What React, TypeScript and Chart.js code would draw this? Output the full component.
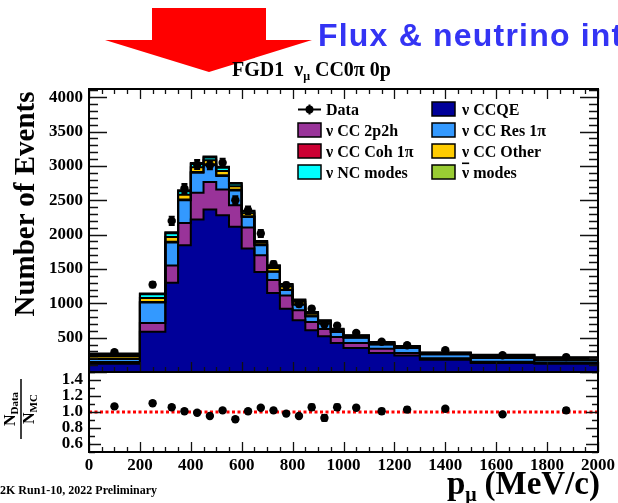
import React, { useEffect, useRef } from 'react';
import { Chart, registerables } from 'chart.js';

Chart.register(...registerables);

// ---------------- data ----------------
const binEdges = [0, 200, 300, 350, 400, 450, 500, 550, 600, 650, 700, 750, 800, 850, 900, 950, 1000, 1100, 1200, 1300, 1500, 1750, 2000];

const nuCCQE = [120, 585, 1300, 1845, 2220, 2366, 2283, 2113, 1797, 1456, 1150, 922, 752, 606, 519, 421, 349, 276, 242, 179, 130, 121];
const nuCC2p2h = [25, 130, 250, 325, 390, 400, 375, 316, 306, 244, 188, 190, 146, 121, 107, 88, 72, 63, 34, 20, 18, 15];
const nuCCRes1pi = [45, 295, 335, 330, 290, 245, 195, 215, 155, 146, 121, 83, 83, 83, 80, 73, 79, 63, 73, 60, 55, 35];
const nuCCCoh1pi = [3, 8, 10, 12, 12, 12, 10, 10, 8, 6, 5, 4, 3, 3, 3, 2, 2, 2, 1, 1, 1, 1];
const nuCCOther = [35, 60, 70, 70, 70, 60, 65, 50, 45, 30, 50, 45, 40, 35, 25, 28, 20, 18, 16, 15, 30, 25];
const nuNCModes = [20, 55, 55, 50, 45, 40, 45, 35, 25, 18, 30, 28, 22, 18, 12, 13, 9, 10, 8, 7, 12, 10];
const antiNuModes = [20, 10, 15, 15, 15, 15, 15, 12, 10, 8, 10, 10, 8, 7, 6, 6, 3, 4, 4, 3, 6, 6];

const dataCounts = [288, 1272, 2200, 2672, 3020, 3010, 3046, 2502, 2356, 2016, 1568, 1263, 990, 920, 694, 675, 570, 440, 390, 318, 243, 217];
const dataErrors = [20, 40, 60, 65, 65, 60, 60, 55, 55, 50, 45, 40, 35, 35, 30, 30, 25, 20, 20, 15, 12, 12];

const ratioValues = [1.07, 1.11, 1.06, 1.01, 0.99, 0.95, 1.02, 0.91, 1.01, 1.054, 1.02, 0.98, 0.95, 1.06, 0.926, 1.06, 1.054, 1.01, 1.03, 1.04, 0.97, 1.02];
const ratioErrors = [0.02, 0.02, 0.02, 0.02, 0.02, 0.02, 0.02, 0.02, 0.02, 0.02, 0.02, 0.02, 0.02, 0.035, 0.035, 0.035, 0.025, 0.03, 0.03, 0.02, 0.02, 0.03];
const unityLine = 1.0;

const componentNames = ['ν CCQE', 'ν CC 2p2h', 'ν CC Res 1π', 'ν CC Coh 1π', 'ν CC Other', 'ν NC modes', 'ν̄ modes'];
const componentColors = ['#000099', '#993399', '#3399ff', '#cc0033', '#ffcc00', '#00ffff', '#99cc33'];
const componentSeries = [nuCCQE, nuCC2p2h, nuCCRes1pi, nuCCCoh1pi, nuCCOther, nuNCModes, antiNuModes];

const xTickLabels = [0, 200, 400, 600, 800, 1000, 1200, 1400, 1600, 1800, 2000];
const mainYTickLabels = [500, 1000, 1500, 2000, 2500, 3000, 3500, 4000];
const ratioYTickLabels = [0.6, 0.8, 1.0, 1.2, 1.4];

const X_MIN = 0;
const X_MAX = 2000;
const MAIN_Y_MAX = 4120;
const RATIO_Y_MIN = 0.5;
const RATIO_Y_MAX = 1.5;

// ---------------- helpers ----------------
const SERIF = "'Liberation Serif', 'Times New Roman', serif";
const tickFont = { family: SERIF, size: 17, weight: 'bold' as const };

const binCenters = binEdges.slice(0, -1).map((e, i) => (e + binEdges[i + 1]) / 2);

const zeroPad = (s: any) => {
  s.paddingTop = 0;
  s.paddingBottom = 0;
  s.paddingLeft = 0;
  s.paddingRight = 0;
};

const frameTicksPlugin = {
  id: 'frameTicks',
  afterDatasetsDraw(chart: any, _args: any, opts: any) {
    const { ctx, chartArea: a } = chart;
    const xs = chart.scales.x;
    const ys = chart.scales.y;
    ctx.save();
    // error bars
    chart.data.datasets.forEach((ds: any, i: number) => {
      if (!ds.errorBars) return;
      const meta = chart.getDatasetMeta(i);
      ctx.strokeStyle = '#000';
      ctx.lineWidth = 2;
      meta.data.forEach((pt: any, j: number) => {
        const v = ds.data[j].y;
        const e = ds.errorBars[j];
        const y1 = ys.getPixelForValue(v + e);
        const y2 = ys.getPixelForValue(v - e);
        ctx.beginPath();
        ctx.moveTo(pt.x, y1);
        ctx.lineTo(pt.x, y2);
        ctx.moveTo(pt.x - 3, y1);
        ctx.lineTo(pt.x + 3, y1);
        ctx.moveTo(pt.x - 3, y2);
        ctx.lineTo(pt.x + 3, y2);
        ctx.stroke();
      });
    });
    // ticks (pointing inward, ROOT style)
    ctx.strokeStyle = '#111';
    ctx.lineWidth = 1.3;
    const walk = (min: number, max: number, minor: number, major: number, fn: (v: number, isMajor: boolean) => void) => {
      const k0 = Math.ceil(min / minor - 1e-9);
      const k1 = Math.floor(max / minor + 1e-9);
      const per = Math.round(major / minor);
      for (let k = k0; k <= k1; k++) fn(k * minor, k % per === 0);
    };
    ctx.beginPath();
    walk(xs.min, xs.max, opts.xMinor, opts.xMajor, (v, M) => {
      const p = Math.round(xs.getPixelForValue(v)) + 0.5;
      const len = M ? opts.xMajorLen : opts.xMinorLen;
      ctx.moveTo(p, a.bottom);
      ctx.lineTo(p, a.bottom - len);
      if (opts.top) {
        ctx.moveTo(p, a.top);
        ctx.lineTo(p, a.top + len);
      }
    });
    walk(ys.min, ys.max, opts.yMinor, opts.yMajor, (v, M) => {
      const p = Math.round(ys.getPixelForValue(v)) + 0.5;
      const len = M ? opts.yMajorLen : opts.yMinorLen;
      ctx.moveTo(a.left, p);
      ctx.lineTo(a.left + len, p);
      ctx.moveTo(a.right, p);
      ctx.lineTo(a.right - len, p);
    });
    ctx.stroke();
    // frame
    ctx.lineWidth = 2;
    ctx.strokeStyle = '#000';
    ctx.strokeRect(a.left, a.top, a.right - a.left, a.bottom - a.top);
    ctx.restore();
  },
};

function mainConfig(): any {
  const mcSets = componentSeries.map((vals, i) => ({
    type: 'line',
    label: componentNames[i],
    data: binEdges.map((e, j) => ({ x: e, y: vals[Math.min(j, vals.length - 1)] })),
    stepped: 'before',
    fill: i === 0 ? 'origin' : '-1',
    backgroundColor: componentColors[i],
    borderColor: '#000',
    borderWidth: 2,
    pointRadius: 0,
    tension: 0,
    stack: 'mc',
    order: 1,
  }));
  const dataSet = {
    type: 'line',
    label: 'Data',
    data: binCenters.map((c, i) => ({ x: c, y: dataCounts[i] })),
    errorBars: dataErrors,
    showLine: false,
    fill: false,
    pointRadius: 4.2,
    pointBackgroundColor: '#000',
    pointBorderWidth: 0,
    stack: 'data',
    order: 0,
  };
  return {
    type: 'line',
    data: { datasets: [...mcSets, dataSet] },
    plugins: [frameTicksPlugin],
    options: {
      responsive: false,
      animation: false,
      devicePixelRatio: 1,
      events: [],
      layout: { padding: { left: 0, right: 20, top: 9, bottom: 0 } },
      plugins: {
        legend: { display: false },
        tooltip: { enabled: false },
        filler: { drawTime: 'beforeDatasetsDraw' },
        frameTicks: { xMinor: 50, xMajor: 200, xMajorLen: 10, xMinorLen: 5, yMinor: 100, yMajor: 500, yMajorLen: 18, yMinorLen: 9, top: true },
      },
      scales: {
        x: {
          type: 'linear',
          min: X_MIN,
          max: X_MAX,
          afterFit: (s: any) => { s.height = 8; zeroPad(s); },
          ticks: { display: false },
          grid: { display: false, drawTicks: false },
          border: { display: false },
        },
        y: {
          type: 'linear',
          min: 0,
          max: MAIN_Y_MAX,
          stacked: true,
          afterBuildTicks: (s: any) => { s.ticks = mainYTickLabels.map((value) => ({ value })); },
          afterFit: (s: any) => { s.width = 89; zeroPad(s); },
          grid: { display: false, drawTicks: false },
          border: { display: false },
          ticks: { padding: 6, autoSkip: false, font: tickFont, color: '#000', callback: (v: any) => String(v) },
        },
      },
    },
  };
}

function ratioConfig(): any {
  return {
    type: 'line',
    data: {
      datasets: [
        {
          type: 'line',
          label: 'unity',
          data: [{ x: X_MIN, y: unityLine }, { x: X_MAX, y: unityLine }],
          borderColor: '#ff0000',
          borderWidth: 3,
          borderDash: [3, 2.5],
          pointRadius: 0,
          fill: false,
          order: 2,
        },
        {
          type: 'line',
          label: 'Data/MC',
          data: binCenters.map((c, i) => ({ x: c, y: ratioValues[i] })),
          errorBars: ratioErrors,
          showLine: false,
          fill: false,
          pointRadius: 4.2,
          pointBackgroundColor: '#000',
          pointBorderWidth: 0,
          order: 0,
        },
      ],
    },
    plugins: [frameTicksPlugin],
    options: {
      responsive: false,
      animation: false,
      devicePixelRatio: 1,
      events: [],
      layout: { padding: { left: 0, right: 20, top: 7, bottom: 0 } },
      plugins: {
        legend: { display: false },
        tooltip: { enabled: false },
        frameTicks: { xMinor: 50, xMajor: 200, xMajorLen: 10, xMinorLen: 5, yMinor: 0.1, yMajor: 0.2, yMajorLen: 12, yMinorLen: 6, top: false },
      },
      scales: {
        x: {
          type: 'linear',
          min: X_MIN,
          max: X_MAX,
          afterBuildTicks: (s: any) => { s.ticks = xTickLabels.map((value) => ({ value })); },
          afterFit: (s: any) => { s.height = 51; zeroPad(s); },
          ticks: { padding: 3, font: tickFont, color: '#000', maxRotation: 0, autoSkip: false, callback: (v: any) => String(v) },
          grid: { display: false, drawTicks: false },
          border: { display: false },
        },
        y: {
          type: 'linear',
          min: RATIO_Y_MIN,
          max: RATIO_Y_MAX,
          afterBuildTicks: (s: any) => { s.ticks = ratioYTickLabels.map((value) => ({ value })); },
          afterFit: (s: any) => { s.width = 89; zeroPad(s); },
          grid: { display: false, drawTicks: false },
          border: { display: false },
          ticks: { padding: 6, autoSkip: false, font: tickFont, color: '#000', callback: (v: any) => Number(v).toFixed(1) },
        },
      },
    },
  };
}

const legendLeft = [
  { label: 'Data', color: null as string | null },
  { label: componentNames[1], color: componentColors[1] },
  { label: componentNames[3], color: componentColors[3] },
  { label: componentNames[5], color: componentColors[5] },
];
const legendRight = [
  { label: componentNames[0], color: componentColors[0] },
  { label: componentNames[2], color: componentColors[2] },
  { label: componentNames[4], color: componentColors[4] },
  { label: componentNames[6], color: componentColors[6] },
];
const legendBaselines = [114.5, 135.5, 156.5, 177.5];

function LegendLabel({ text }: { text: string }) {
  if (text === 'ν̄ modes') {
    return (
      <>
        <tspan textDecoration="overline">ν</tspan>
        <tspan> modes</tspan>
      </>
    );
  }
  return <>{text}</>;
}

export default function App() {
  const mainRef = useRef<HTMLCanvasElement>(null);
  const ratioRef = useRef<HTMLCanvasElement>(null);

  useEffect(() => {
    const main = new Chart(mainRef.current as HTMLCanvasElement, mainConfig());
    const ratio = new Chart(ratioRef.current as HTMLCanvasElement, ratioConfig());
    return () => {
      main.destroy();
      ratio.destroy();
    };
  }, []);

  const legendCol = (items: typeof legendLeft, boxX: number, textX: number) =>
    items.map((it, i) => {
      const b = legendBaselines[i];
      if (it.color === null) {
        const cy = b - 5;
        return (
          <g key={it.label}>
            <line x1={boxX} x2={boxX + 23} y1={cy} y2={cy} stroke="#000" strokeWidth={2} />
            <line x1={boxX + 11.5} x2={boxX + 11.5} y1={cy - 5} y2={cy + 5} stroke="#000" strokeWidth={2} />
            <circle cx={boxX + 11.5} cy={cy} r={4} fill="#000" />
            <text x={textX} y={b}>{it.label}</text>
          </g>
        );
      }
      return (
        <g key={it.label}>
          <rect x={boxX} y={b - 12.5} width={23} height={14} fill={it.color} stroke="#000" strokeWidth={1.5} />
          <text x={textX} y={b}><LegendLabel text={it.label} /></text>
        </g>
      );
    });

  return (
    <div style={{ position: 'absolute', left: 0, top: 0, width: 618, height: 503, overflow: 'hidden', background: '#fff' }}>
      <canvas ref={mainRef} width={618} height={300} style={{ position: 'absolute', left: 0, top: 80 }} />
      <canvas ref={ratioRef} width={618} height={138} style={{ position: 'absolute', left: 0, top: 365 }} />
      <svg width={618} height={503} style={{ position: 'absolute', left: 0, top: 0, pointerEvents: 'none' }}>
        <polygon points="152,8 266,8 266,40 312,40 209,72 105,40 152,40" fill="#ff0000" />
        <text x={318} y={46} fontFamily="'Liberation Sans', Arial, sans-serif" fontWeight="bold" fontSize={32} letterSpacing={1.2} fill="#3434f4">
          Flux &amp; neutrino int
        </text>
        <g fontFamily={SERIF} fontWeight="bold" fill="#000">
          <text x={232} y={76} fontSize={20}>
            <tspan>FGD1</tspan>
            <tspan dx={10}>ν</tspan>
            <tspan dy={4} fontSize={12}>μ</tspan>
            <tspan dy={-4} dx={5}>CC0π</tspan>
            <tspan dx={5}>0p</tspan>
          </text>
          <g fontSize={16}>
            {legendCol(legendLeft, 298, 326)}
            {legendCol(legendRight, 432, 462)}
          </g>
          <text transform="translate(34,204) rotate(-90)" textAnchor="middle" fontSize={29}>Number of Events</text>
          <g transform="translate(21,409) rotate(-90)">
            <text x={0} y={-6} textAnchor="middle" fontSize={16}>
              N<tspan dy={3} fontSize={11}>Data</tspan>
            </text>
            <line x1={-30} x2={30} y1={0} y2={0} stroke="#000" strokeWidth={1.5} />
            <text x={0} y={13} textAnchor="middle" fontSize={16}>
              N<tspan dy={3} fontSize={11}>MC</tspan>
            </text>
          </g>
          <text x={600} y={494} textAnchor="end" fontSize={33}>
            p<tspan dy={7} fontSize={20}>μ</tspan>
            <tspan dy={-7} dx={8}>(MeV/c)</tspan>
          </text>
          <text x={0} y={494} fontSize={12}>2K Run1-10, 2022 Preliminary</text>
        </g>
      </svg>
    </div>
  );
}
